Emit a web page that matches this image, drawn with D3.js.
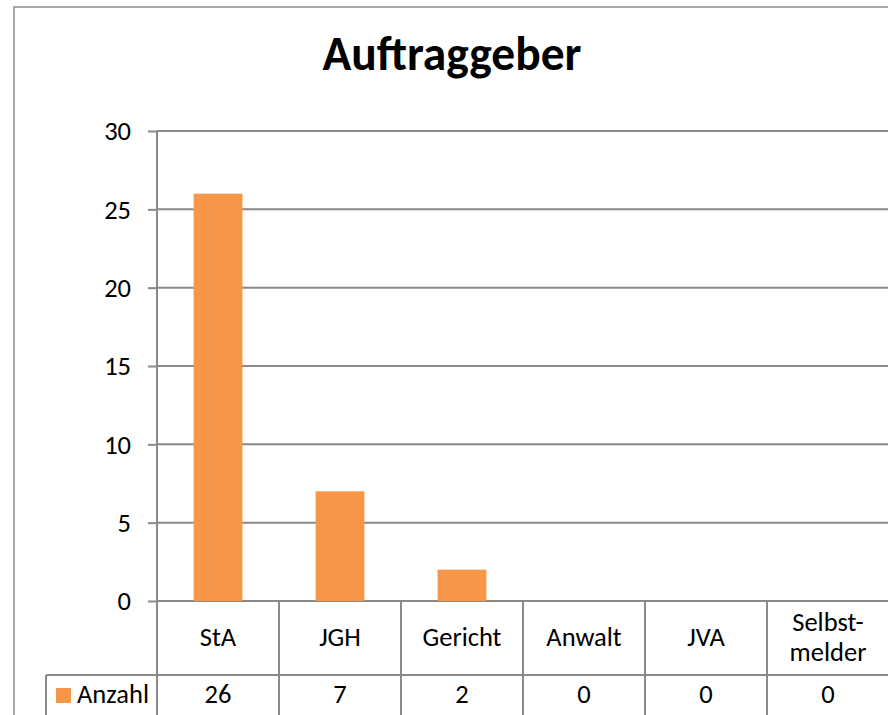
<!DOCTYPE html>
<html lang="de">
<head>
    <meta charset="UTF-8" />
    <title>Auftraggeber</title>
    <style>
        html, body { margin: 0; padding: 0; background: #fff; overflow: hidden; }
        #viz text { font-family: Carlito, Calibri, Lato, sans-serif; fill: #000; }
    </style>
</head>
<body>
    <div id="viz"></div>

    <script src="https://d3js.org/d3.v7.min.js"></script>
    <script>
        // --- Data ---
        const title = "Auftraggeber";
        const seriesName = "Anzahl";
        const categories = ["StA", "JGH", "Gericht", "Anwalt", "JVA", "Selbst-\nmelder"];
        const values = [26, 7, 2, 0, 0, 0];
        const yTicks = [0, 5, 10, 15, 20, 25, 30];

        const width = 888, height = 715;
        const barColor = "#F79646";
        const lineColor = "#898989";
        const fs = 26.5;

        const svg = d3.select("#viz")
            .append("svg")
            .attr("width", width)
            .attr("height", height);

        // outer chart frame (runs off the right / bottom edge)
        svg.append("rect")
            .attr("x", 14).attr("y", 7)
            .attr("width", 900).attr("height", 760)
            .attr("fill", "none")
            .attr("stroke", "#8c8c8c")
            .attr("stroke-width", 1.5);

        // --- Scales ---
        const x = d3.scaleBand().domain(categories).range([157, 889]);
        const y = d3.scaleLinear().domain([0, 30]).range([601, 131]);
        const barW = x.bandwidth() * 0.4;

        // title
        svg.append("text")
            .attr("x", 452).attr("y", 70)
            .attr("text-anchor", "middle")
            .attr("font-size", 47.5)
            .attr("font-weight", "bold")
            .text(title);

        // gridlines
        svg.append("g")
            .selectAll("line")
            .data(yTicks)
            .join("line")
            .attr("x1", 157).attr("x2", 889)
            .attr("y1", d => y(d)).attr("y2", d => y(d))
            .attr("stroke", lineColor)
            .attr("stroke-width", 2);

        // y axis
        const yAxis = svg.append("g")
            .attr("transform", "translate(157,0)")
            .call(d3.axisLeft(y).tickValues(yTicks).tickSize(9).tickPadding(17));
        yAxis.select(".domain").remove();
        yAxis.selectAll(".tick line").attr("stroke", lineColor).attr("stroke-width", 2);
        yAxis.selectAll(".tick text")
            .attr("font-size", fs)
            .attr("dy", "0.33em");

        // bars
        svg.append("g")
            .selectAll("rect")
            .data(values)
            .join("rect")
            .attr("x", (d, i) => x(categories[i]) + (x.bandwidth() - barW) / 2)
            .attr("y", d => y(d))
            .attr("width", barW)
            .attr("height", d => y(0) - y(d))
            .attr("fill", barColor);

        // --- Data table ---
        const table = svg.append("g");
        const rowTop = 601, rowMid = 675, rowBottom = 730;

        // vertical axis line continues through table
        table.append("line")
            .attr("x1", 157).attr("x2", 157)
            .attr("y1", 131).attr("y2", rowBottom)
            .attr("stroke", lineColor).attr("stroke-width", 2);

        // band boundaries
        table.selectAll("line.sep")
            .data(categories)
            .join("line")
            .attr("class", "sep")
            .attr("x1", d => x(d) + x.bandwidth()).attr("x2", d => x(d) + x.bandwidth())
            .attr("y1", rowTop).attr("y2", rowBottom)
            .attr("stroke", lineColor).attr("stroke-width", 2);

        // row separator + legend cell
        table.append("line")
            .attr("x1", 46).attr("x2", 889)
            .attr("y1", rowMid).attr("y2", rowMid)
            .attr("stroke", lineColor).attr("stroke-width", 2);
        table.append("line")
            .attr("x1", 46).attr("x2", 46)
            .attr("y1", rowMid).attr("y2", rowBottom)
            .attr("stroke", lineColor).attr("stroke-width", 2);

        // category labels
        table.selectAll("text.cat")
            .data(categories)
            .join("text")
            .attr("class", "cat")
            .attr("text-anchor", "middle")
            .attr("font-size", fs)
            .each(function (d) {
                const lines = d.split("\n");
                const cx = x(d) + x.bandwidth() / 2;
                const y0 = lines.length > 1 ? 631 : 646;
                d3.select(this).selectAll("tspan")
                    .data(lines)
                    .join("tspan")
                    .attr("x", cx)
                    .attr("y", (l, j) => y0 + j * 30)
                    .text(l => l);
            });

        // legend key + values
        table.append("rect")
            .attr("x", 56).attr("y", 688)
            .attr("width", 15).attr("height", 15)
            .attr("fill", barColor);
        table.append("text")
            .attr("x", 77).attr("y", 703)
            .attr("font-size", fs)
            .text(seriesName);

        table.selectAll("text.val")
            .data(values)
            .join("text")
            .attr("class", "val")
            .attr("x", (d, i) => x(categories[i]) + x.bandwidth() / 2)
            .attr("y", 703)
            .attr("text-anchor", "middle")
            .attr("font-size", fs)
            .text(d => d);
    </script>
</body>
</html>
